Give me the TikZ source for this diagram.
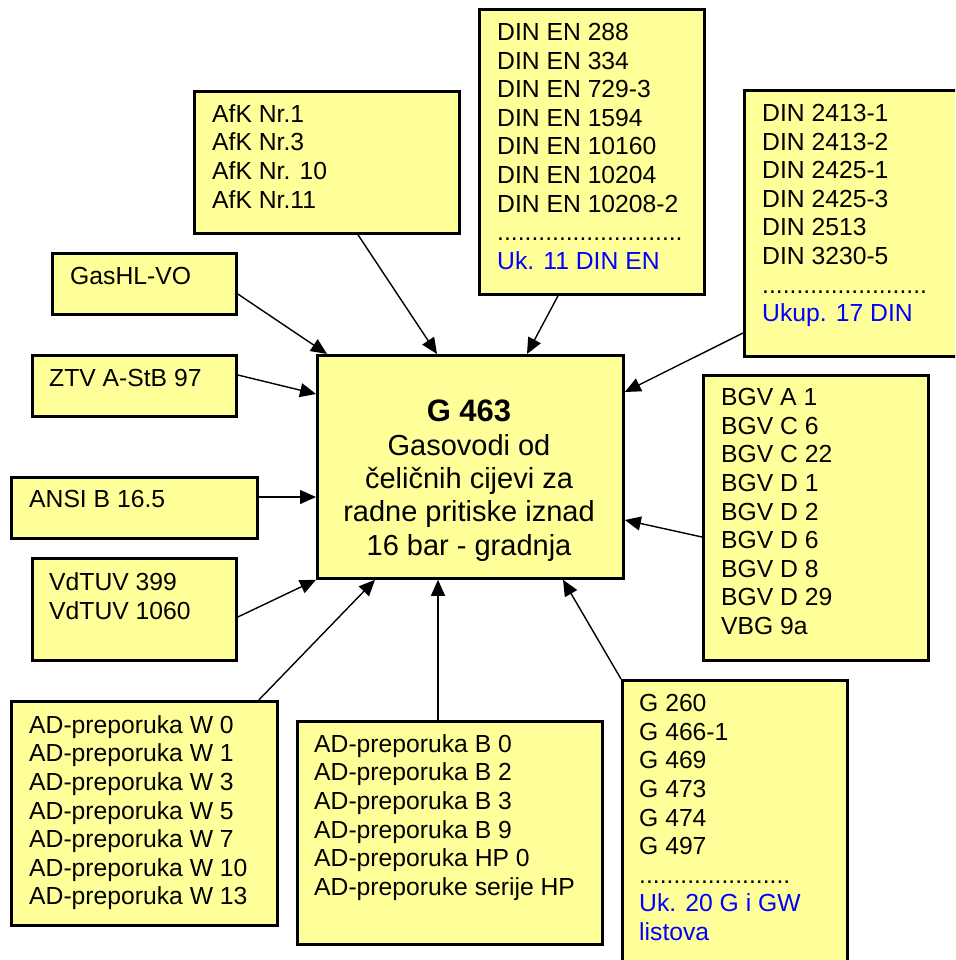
\documentclass[tikz,border=0pt]{standalone}
\usepackage{fontspec}
\setmainfont{Liberation Sans}
\usetikzlibrary{arrows.meta,calc}
\definecolor{boxfill}{HTML}{FFFF99}
\definecolor{ukblue}{HTML}{0000FF}
\begin{document}
\begin{tikzpicture}[x=1pt,y=-1pt,
  box/.style={draw=black, line width=2.8pt, fill=boxfill, inner sep=0pt, anchor=north west},
  txt/.style={inner sep=0pt, anchor=north west, align=left, font=\fontsize{24.7}{28.6}\selectfont},
  conn/.style={line width=1.4pt, -{Triangle[length=16pt,width=14pt]}},
]
\clip (0,0) rectangle (955,960);
\fill[white] (0,0) rectangle (955,960);

% boxes
\node[box, minimum width=265pt, minimum height=142pt] (afk) at (193,90) {};
\node[box, minimum width=225pt, minimum height=285pt] (dinen) at (478,8) {};
\node[box, minimum width=227pt, minimum height=266pt] (din) at (743,89) {};
\node[box, minimum width=184pt, minimum height=61pt] (gas) at (51,252) {};
\node[box, minimum width=204pt, minimum height=61pt] (ztv) at (31,354) {};
\node[box, minimum width=246pt, minimum height=61pt] (ansi) at (10,476) {};
\node[box, minimum width=204pt, minimum height=102pt] (vdt) at (31,557) {};
\node[box, minimum width=306pt, minimum height=223pt] (center) at (316,354) {};
\node[box, minimum width=225pt, minimum height=285pt] (bgv) at (702,374) {};
\node[box, minimum width=266pt, minimum height=224pt] (adw) at (10,700) {};
\node[box, minimum width=305pt, minimum height=223pt] (adb) at (296,720) {};
\node[box, minimum width=225pt, minimum height=311pt] (gbox) at (621,679) {};

% texts
\node[txt] (afkt) at (212,104.3) {AfK Nr.1\\AfK Nr.3\\AfK Nr. 10\\AfK Nr.11};
\node[txt] (dinent) at (497,23) {DIN EN 288\\DIN EN 334\\DIN EN 729-3\\DIN EN 1594\\DIN EN 10160\\DIN EN 10204\\DIN EN 10208-2\\...........................\\\textcolor{ukblue}{Uk. 11 DIN EN}};
\node[txt] (dint) at (762,104) {DIN 2413-1\\DIN 2413-2\\DIN 2425-1\\DIN 2425-3\\DIN 2513\\DIN 3230-5\\........................\\\textcolor{ukblue}{Ukup. 17 DIN}};
\node[txt] (gast) at (70,267.3) {GasHL-VO};
\node[txt] (ztvt) at (49,369.3) {ZTV A-StB 97};
\node[txt] (ansit) at (29,490.3) {ANSI B 16.5};
\node[txt] (vdtt) at (49,572.3) {VdTUV 399\\VdTUV 1060};
\node[txt] (adwt) at (29,715.2) {AD-preporuka W 0\\AD-preporuka W 1\\AD-preporuka W 3\\AD-preporuka W 5\\AD-preporuka W 7\\AD-preporuka W 10\\AD-preporuka W 13};
\node[txt] (adbt) at (314,734.2) {AD-preporuka B 0\\AD-preporuka B 2\\AD-preporuka B 3\\AD-preporuka B 9\\AD-preporuka HP 0\\AD-preporuke serije HP};
\node[txt] (bgvt) at (721,388.3) {BGV A 1\\BGV C 6\\BGV C 22\\BGV D 1\\BGV D 2\\BGV D 6\\BGV D 8\\BGV D 29\\VBG 9a};
\node[txt] (gt) at (639,694.3) {G 260\\G 466-1\\G 469\\G 473\\G 474\\G 497\\......................\\\textcolor{ukblue}{Uk. 20 G i GW}\\\textcolor{ukblue}{listova}};
\node[inner sep=0pt, anchor=north, align=center, font=\fontsize{29}{33.3}\selectfont] (ct) at (469,400)
  {\textbf{\fontsize{31}{33.3}\selectfont G 463}\\Gasovodi od\\čeličnih cijevi za\\radne pritiske iznad\\16 bar - gradnja};

% connectors
\draw[conn] ($(afk.south west)+(165,0)$) -- ($(center.north west)+(121,0)$);
\draw[conn] ($(dinen.south west)+(80,0)$) -- ($(center.north west)+(211,0)$);
\draw[conn] ($(din.north west)+(0,244)$) -- ($(center.north east)+(0,38)$);
\draw[conn] ($(gas.north east)+(0,42)$) -- ($(center.north west)+(11,0)$);
\draw[conn] ($(ztv.north east)+(0,21)$) -- ($(center.north west)+(0,40)$);
\draw[conn] ($(ansi.north east)+(0,21)$) -- ($(center.north west)+(0,143)$);
\draw[conn] ($(vdt.north east)+(0,60)$) -- (center.south west);
\draw[conn] ($(adw.north east)+(-20,0)$) -- ($(center.south west)+(59,0)$);
\draw[conn] ($(adb.north west)+(142,0)$) -- ($(center.south west)+(122,0)$);
\draw[conn] (gbox.north west) -- ($(center.south west)+(247,0)$);
\draw[conn] ($(bgv.north west)+(0,163)$) -- ($(center.north east)+(0,166)$);
\end{tikzpicture}
\end{document}
